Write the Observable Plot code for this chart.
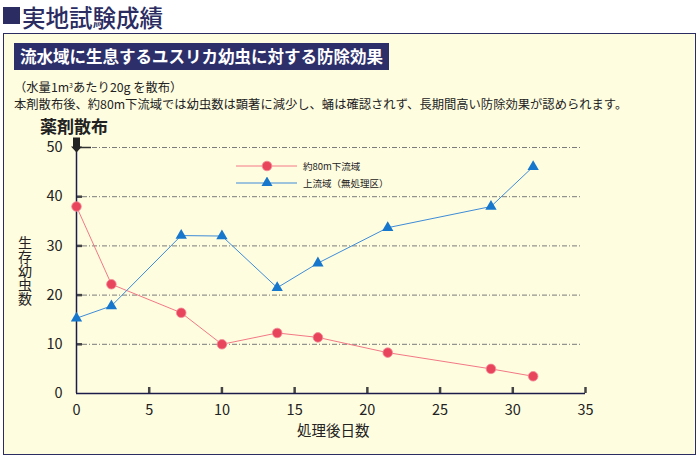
<!DOCTYPE html>
<html><head><meta charset="utf-8">
<script src="https://cdn.jsdelivr.net/npm/d3@7"></script>
<script src="https://cdn.jsdelivr.net/npm/@observablehq/plot@0.6"></script>
<style>
html,body{margin:0;padding:0;background:#fff;}
body{width:700px;height:458px;position:relative;overflow:hidden;font-family:"Noto Sans CJK JP","Noto Sans",sans-serif;}
.abs{position:absolute;white-space:nowrap;}
#box{left:3px;top:33px;width:691px;height:420px;border:1.5px solid #2a2c62;background:#fffde0;}
#title{left:22px;top:0px;font-size:23.5px;line-height:normal;color:#2a2c62;font-weight:500;}
#sq{left:3px;top:7px;width:17px;height:17px;background:#2a2c62;}
#head{left:14px;top:43px;width:375px;height:27px;background:#2d2f6b;color:#fff;font-weight:bold;font-size:16.5px;line-height:27px;padding-left:6px;box-sizing:border-box;}
#desc{left:14px;top:79.8px;font-size:12.3px;line-height:15px;color:#222;}
#spray{left:40px;top:117px;font-size:17px;line-height:17px;font-weight:bold;color:#222;}
#ylab{left:18px;top:236px;font-size:14px;line-height:14px;writing-mode:vertical-rl;text-orientation:upright;color:#222;}
#xlab{left:297px;top:423px;font-size:14.5px;line-height:14.5px;color:#222;}
#legend{left:236px;top:157px;font-size:9.5px;color:#222;}
#legend .row{display:flex;align-items:center;height:17px;}
#legend svg{margin-right:5px;}
#chart{left:0;top:0;}
</style></head>
<body>
<div id="box" class="abs"></div>
<div id="sq" class="abs"></div>
<div id="title" class="abs">実地試験成績</div>
<div id="head" class="abs">流水域に生息するユスリカ幼虫に対する防除効果</div>
<div id="desc" class="abs">（水量1m<span style="font-size:7px;position:relative;top:-4px">3</span>あたり20g を散布）<br>本剤散布後、約80m下流域では幼虫数は顕著に減少し、蛹は確認されず、長期間高い防除効果が認められます。</div>
<div id="spray" class="abs">薬剤散布</div>
<div id="ylab" class="abs">生存幼虫数</div>
<div id="xlab" class="abs">処理後日数</div>
<div id="chart" class="abs"></div>
<div id="legend" class="abs"></div>
<script>
// Data
const days = [0, 2.4, 7.2, 10, 13.8, 16.6, 21.4, 28.5, 31.4];
const downstream = [38, 22.2, 16.4, 10, 12.3, 11.4, 8.3, 5, 3.5];      // 約80m下流域
const upstream = [15.3, 17.8, 32.1, 32, 21.5, 26.5, 33.7, 38, 46.1];    // 上流域（無処理区）
const seriesNames = ["約80m下流域", "上流域（無処理区）"];
const xTicks = [0, 5, 10, 15, 20, 25, 30, 35];
const yTicks = [0, 10, 20, 30, 40, 50];
const sprayDay = 0;

const redLine = "#f27886", redDot = "#e8455d";
const blueLine = "#3d8bd8", blueTri = "#1677cc";

const down = days.map((d, i) => ({day: d, n: downstream[i]}));
const up = days.map((d, i) => ({day: d, n: upstream[i]}));
const yMax = d3.max(yTicks);

const arrowSymbol = {
  draw(ctx) {
    ctx.moveTo(-3.5, -10); ctx.lineTo(3.5, -10); ctx.lineTo(3.5, -1);
    ctx.lineTo(5.5, -1); ctx.lineTo(0, 5); ctx.lineTo(-5.5, -1);
    ctx.lineTo(-3.5, -1); ctx.closePath();
  }
};

const chart = Plot.plot({
  width: 700, height: 458,
  marginLeft: 76, marginRight: 115, marginTop: 147, marginBottom: 65,
  style: {background: "transparent", fontFamily: "'Noto Sans CJK JP','Noto Sans',sans-serif", fontSize: "14.5px", color: "#222"},
  x: {domain: [0, 35], ticks: xTicks},
  y: {domain: [0, yMax], ticks: yTicks},
  marks: [
    Plot.gridY(yTicks.filter(t => t > 0), {stroke: "#7a7a7a", strokeOpacity: 1, strokeWidth: 1, strokeDasharray: "5,2,1,2", insetLeft: 6, insetRight: 3}),
    Plot.axisX(xTicks, {tickSize: 0, tickPadding: 11, label: null, fill: "#222"}),
    Plot.axisX(xTicks.filter(t => t > 0), {tickSize: -6, text: null, label: null, stroke: "#444", strokeWidth: 2.5}),
    Plot.axisY(yTicks, {tickSize: 0, tickPadding: 14, label: null, fill: "#222"}),
    Plot.axisY(yTicks.filter(t => t > 0 && t < yMax), {tickSize: -6, text: null, label: null, stroke: "#444", strokeWidth: 2.5}),
    Plot.axisY([yMax], {tickSize: -15, text: null, label: null, stroke: "#333", strokeWidth: 1.5}),
    Plot.ruleX([sprayDay], {stroke: "#1c1c4a", strokeWidth: 1.5}),
    Plot.ruleY([0], {stroke: "#1c1c4a", strokeWidth: 1.5}),
    Plot.lineY(down, {x: "day", y: "n", stroke: redLine, strokeWidth: 1}),
    Plot.lineY(up, {x: "day", y: "n", stroke: blueLine, strokeWidth: 1}),
    Plot.dot(down, {x: "day", y: "n", r: 4.8, fill: redDot, stroke: "#f48a98", strokeWidth: 0.8}),
    Plot.dot(up, {x: "day", y: "n", r: 4.2, symbol: "triangle", fill: blueTri}),
    Plot.dot([{day: sprayDay, n: yMax}], {x: "day", y: "n", symbol: arrowSymbol, r: 5, fill: "#222", stroke: "none"})
  ]
});
document.getElementById("chart").appendChild(chart);

// Legend
const legend = document.getElementById("legend");
const items = [
  {name: seriesNames[0], line: redLine, mark: `<circle cx="31" cy="6" r="4.8" fill="${redDot}" stroke="#f48a98" stroke-width="0.8"/>`},
  {name: seriesNames[1], line: blueLine, mark: `<path d="M31,0 L36.5,9.5 L25.5,9.5 Z" transform="translate(0,-0.5)" fill="${blueTri}"/>`}
];
for (const it of items) {
  const row = document.createElement("div");
  row.className = "row";
  row.innerHTML = `<svg width="62" height="12"><line x1="0" x2="61" y1="6" y2="6" stroke="${it.line}" stroke-width="1"/>${it.mark}</svg><span>${it.name}</span>`;
  legend.appendChild(row);
}
</script>
</body></html>
